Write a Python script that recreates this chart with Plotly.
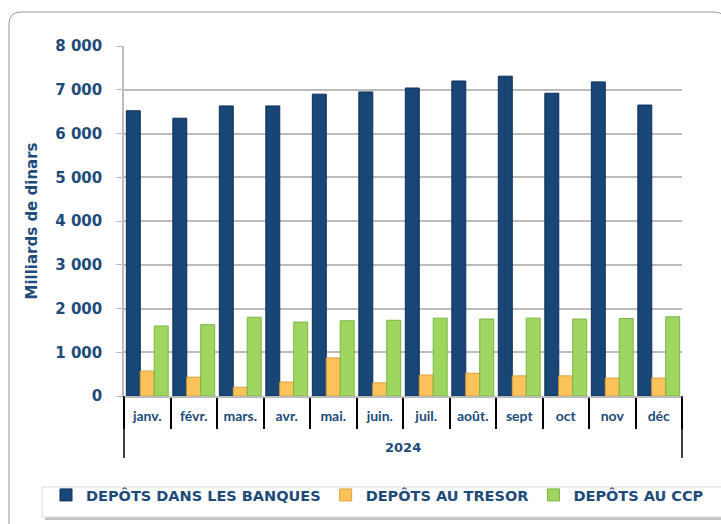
import plotly.graph_objects as go

months = ["janv.", "févr.", "mars.", "avr.", "mai.", "juin.", "juil.", "août.", "sept", "oct", "nov", "déc"]
year = "2024"
banques = [6520, 6350, 6630, 6630, 6900, 6950, 7040, 7200, 7310, 6920, 7180, 6650]
tresor = [570, 430, 200, 320, 870, 300, 480, 520, 460, 460, 410, 410]
ccp = [1600, 1630, 1800, 1690, 1720, 1730, 1780, 1760, 1780, 1760, 1770, 1810]
names = ["DEPÔTS DANS LES BANQUES", "DEPÔTS AU TRESOR", "DEPÔTS AU CCP"]
colors = ["#184677", "#fcc35a", "#9fd660"]
edges = ["#0f2f52", "#d9a03c", "#7bb447"]

FONT = "DejaVu Sans"
TXT = "#1e4b7a"

fig = go.Figure()
for name, vals, c, e in zip(names, [banques, tresor, ccp], colors, edges):
    fig.add_trace(go.Bar(x=months, y=vals, name=name,
                         marker=dict(color=c, line=dict(color=e, width=1))))

W, H = 721, 524
L, R, T, B = 124, 39, 46, 128
pw, ph = W - L - R, H - T - B

def px(xp):
    return (xp - L) / pw

def py(yp):
    return (H - B - yp) / ph

# rounded outer frame
rx, ry = 12 / pw, 12 / ph
x0, y0, x1 = px(9), py(12), px(726)
ybot = py(530)
path = (f"M {x0},{ybot} L {x0},{y0 - ry} Q {x0},{y0} {x0 + rx},{y0} "
        f"L {x1 - rx},{y0} Q {x1},{y0} {x1},{y0 - ry} L {x1},{ybot}")

shapes = [
    dict(type="path", xref="paper", yref="paper", path=path,
         line=dict(color="#9a9a9a", width=1), layer="below"),
    # legend shadow + box
    dict(type="rect", xref="paper", yref="paper", x0=px(45), x1=px(730), y0=py(520), y1=py(490),
         line=dict(width=0), fillcolor="#c4c4c4", layer="below"),
    dict(type="rect", xref="paper", yref="paper", x0=px(42), x1=px(730), y0=py(517), y1=py(487),
         line=dict(color="#dcdcdc", width=1), fillcolor="white", layer="below"),
    # outer category edges
    dict(type="line", xref="paper", yref="paper", x0=0, x1=0, y0=0, y1=py(458),
         line=dict(color="black", width=1.5)),
    dict(type="line", xref="paper", yref="paper", x0=1, x1=1, y0=0, y1=py(458),
         line=dict(color="black", width=1.5)),
]

annotations = [
    dict(text=year, xref="paper", yref="paper", x=0.5, y=py(447), xanchor="center", yanchor="middle",
         showarrow=False, font=dict(family=FONT, size=13, color=TXT, weight="bold")),
]

fig.update_layout(
    width=W, height=H,
    margin=dict(l=L, r=R, t=T, b=B),
    paper_bgcolor="white", plot_bgcolor="white",
    separators=", ",
    barmode="group", bargap=0.1, bargroupgap=0.0,
    font=dict(family=FONT, color=TXT),
    shapes=shapes,
    annotations=annotations,
    showlegend=True,
    legend=dict(orientation="h", x=px(46), xanchor="left", y=py(495), yanchor="middle",
                bgcolor="rgba(0,0,0,0)", borderwidth=0,
                font=dict(family=FONT, size=14.5, color=TXT, weight="bold"),
                itemwidth=30, traceorder="normal"),
    yaxis=dict(range=[0, 8000], dtick=1000, tickformat=",d", automargin=False,
               showgrid=True, gridcolor="#bcbcbc", gridwidth=1.5,
               showline=True, linecolor="#bcbcbc", linewidth=1.5,
               ticks="outside", ticklen=6, tickcolor="#bcbcbc",
               ticklabelstandoff=11,
               tickfont=dict(family=FONT, size=15, color=TXT, weight="bold"),
               title=dict(text="Milliards de dinars", standoff=14,
                          font=dict(family=FONT, size=15, color=TXT, weight="bold")),
               zeroline=False),
    xaxis=dict(type="category", automargin=False, showline=True, linecolor="#bcbcbc", linewidth=1.5,
               ticks="outside", ticklen=31, tickcolor="black", tickwidth=1.5,
               tickson="boundaries", tickangle=0, ticklabelstandoff=6,
               tickfont=dict(family="Lato", size=14, color=TXT, weight="bold"),
               showgrid=False),
)

fig.write_html("out.html", config={"displayModeBar": False},
               post_script="document.body.style.margin='0';document.body.style.overflow='hidden';")
